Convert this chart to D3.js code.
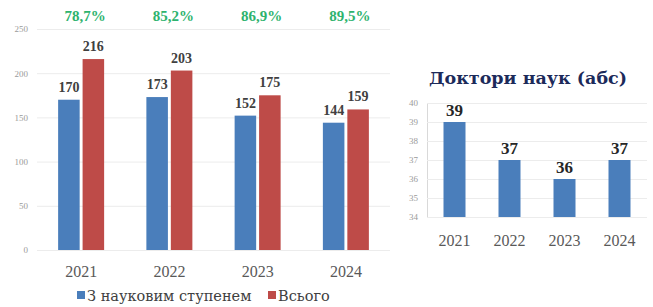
<!DOCTYPE html>
<html>
<head>
<meta charset="utf-8">
<script src="https://cdn.jsdelivr.net/npm/d3@7"></script>
<style>
  body { margin: 0; background: #fff; }
</style>
</head>
<body>
<svg id="chart" width="653" height="307"></svg>
<script>
const years = ['2021', '2022', '2023', '2024']
const withDegree = [170, 173, 152, 144]
const total = [216, 203, 175, 159]
const shares = ['78,7%', '85,2%', '86,9%', '89,5%']
const seriesNames = ['З науковим ступенем', 'Всього']

const doctors = [39, 37, 36, 37]
const doctorTicks = [34, 35, 36, 37, 38, 39, 40]
const leftTicks = [0, 50, 100, 150, 200, 250]

const blue = '#4a7ebb'
const red = '#be4b48'
const grid = '#ececec'
const serif = "'Liberation Serif', serif"
// Liberation Serif here has no Cyrillic, so the Ukrainian labels use DejaVu Serif
const cyr = "'DejaVu Serif', serif"

const svg = d3.select('#chart')
    .attr('font-family', serif)

// left chart
const x = d3.scaleBand()
    .domain(years)
    .range([37, 390])

const sub = d3.scaleBand()
    .domain(seriesNames)
    .range([x.bandwidth() / 2 - 23, x.bandwidth() / 2 + 23])
    .paddingInner(0.12)

const y = d3.scaleLinear()
    .domain([0, 250])
    .range([250, 29])

const left = svg.append('g')

left.append('g')
    .attr('transform', 'translate(37,0)')
    .call(d3.axisLeft(y).tickValues(leftTicks).tickFormat(d3.format('d')).tickSize(-353).tickPadding(9))
    .call(g => g.select('.domain').remove())
    .call(g => g.selectAll('.tick line').attr('stroke', grid))
    .call(g => g.selectAll('.tick text')
        .attr('font-family', serif)
        .attr('font-size', 9)
        .attr('fill', '#9a9a9a'))

const groups = left.selectAll('.year')
  .data(years)
  .join('g')
    .attr('class', 'year')
    .attr('transform', d => `translate(${x(d)},0)`)

const pairs = (d, i) => [
  { name: seriesNames[0], value: withDegree[i], color: blue },
  { name: seriesNames[1], value: total[i], color: red },
]

groups.selectAll('rect')
  .data(pairs)
  .join('rect')
    .attr('x', d => sub(d.name))
    .attr('width', sub.bandwidth())
    .attr('y', d => y(d.value))
    .attr('height', d => y(0) - y(d.value))
    .attr('fill', d => d.color)

groups.selectAll('.val')
  .data(pairs)
  .join('text')
    .attr('class', 'val')
    .attr('x', d => sub(d.name) + sub.bandwidth() / 2)
    .attr('y', d => y(d.value) - 8)
    .attr('text-anchor', 'middle')
    .attr('font-size', 14)
    .attr('font-weight', 'bold')
    .attr('fill', '#404040')
    .text(d => d.value)

groups.append('text')
    .attr('x', x.bandwidth() / 2 + 4)
    .attr('y', 21)
    .attr('text-anchor', 'middle')
    .attr('font-size', 15)
    .attr('font-weight', 'bold')
    .attr('fill', '#2eb36e')
    .text((d, i) => shares[i])

groups.append('text')
    .attr('x', x.bandwidth() / 2)
    .attr('y', 277)
    .attr('text-anchor', 'middle')
    .attr('font-size', 16)
    .attr('fill', '#595959')
    .text(d => d)

// legend
const legend = svg.append('g')
    .attr('transform', 'translate(0,296)')

const legendItems = [
  { name: seriesNames[0], color: blue, x: 77 },
  { name: seriesNames[1], color: red, x: 268 },
]

const item = legend.selectAll('g')
  .data(legendItems)
  .join('g')
    .attr('transform', d => `translate(${d.x},0)`)

item.append('rect')
    .attr('y', -5)
    .attr('width', 8)
    .attr('height', 8)
    .attr('fill', d => d.color)

item.append('text')
    .attr('x', 10)
    .attr('y', 0)
    .attr('dy', '0.35em')
    .attr('font-family', cyr)
    .attr('font-size', 14.5)
    .attr('fill', '#404040')
    .text(d => d.name)

// right chart
const x2 = d3.scaleBand()
    .domain(years)
    .range([427, 647])
    .paddingInner(0.6)
    .paddingOuter(0.3)

const y2 = d3.scaleLinear()
    .domain([34, 40])
    .range([217, 103])

const right = svg.append('g')

right.append('text')
    .attr('x', 528)
    .attr('y', 84)
    .attr('text-anchor', 'middle')
    .attr('font-family', cyr)
    .attr('font-size', 17.5)
    .attr('font-weight', 'bold')
    .attr('fill', '#1c2a5a')
    .text('Доктори наук (абс)')

right.append('g')
    .attr('transform', 'translate(427,0)')
    .call(d3.axisLeft(y2).tickValues(doctorTicks).tickFormat(d3.format('d')).tickSize(-220).tickPadding(9))
    .call(g => g.select('.domain').attr('stroke', '#d9d9d9'))
    .call(g => g.selectAll('.tick line').attr('stroke', grid))
    .call(g => g.selectAll('.tick text')
        .attr('font-family', serif)
        .attr('font-size', 9)
        .attr('fill', '#9a9a9a'))

right.selectAll('.bar')
  .data(doctors)
  .join('rect')
    .attr('class', 'bar')
    .attr('x', (d, i) => x2(years[i]))
    .attr('width', x2.bandwidth())
    .attr('y', d => y2(d))
    .attr('height', d => y2(34) - y2(d))
    .attr('fill', blue)

right.selectAll('.dval')
  .data(doctors)
  .join('text')
    .attr('class', 'dval')
    .attr('x', (d, i) => x2(years[i]) + x2.bandwidth() / 2)
    .attr('y', d => y2(d) - 6)
    .attr('text-anchor', 'middle')
    .attr('font-size', 17)
    .attr('font-weight', 'bold')
    .attr('fill', '#262626')
    .text(d => d)

right.selectAll('.dyear')
  .data(years)
  .join('text')
    .attr('class', 'dyear')
    .attr('x', d => x2(d) + x2.bandwidth() / 2)
    .attr('y', 246)
    .attr('text-anchor', 'middle')
    .attr('font-size', 16)
    .attr('fill', '#595959')
    .text(d => d)
</script>
</body>
</html>
